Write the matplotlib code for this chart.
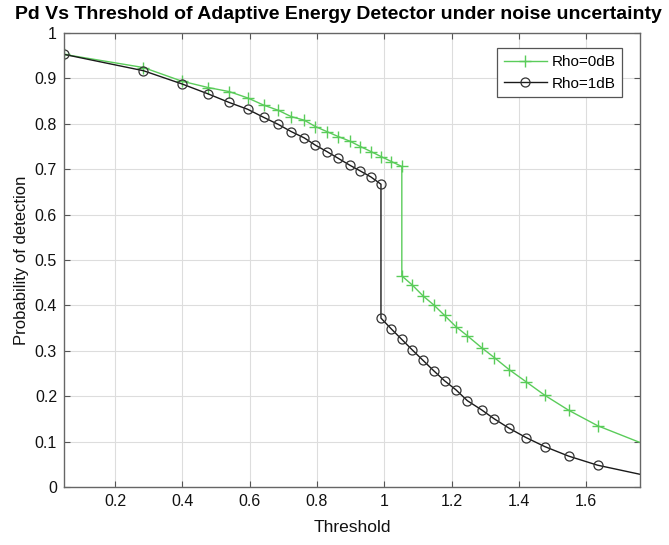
import matplotlib
matplotlib.use("Agg")
import matplotlib.pyplot as plt

plt.rcParams["font.family"] = ["Liberation Sans", "DejaVu Sans"]

# shared threshold grid
threshold = [0.048, 0.284, 0.398, 0.476, 0.539, 0.594, 0.642, 0.684, 0.723,
             0.762, 0.795, 0.829, 0.863, 0.897, 0.929, 0.960, 0.990, 1.021,
             1.052, 1.083, 1.115, 1.147, 1.179, 1.213, 1.247, 1.289, 1.327,
             1.372, 1.421, 1.477, 1.548, 1.634, 1.760]

# Rho = 0 dB: jump at threshold index 18
x_rho0 = threshold[:19] + threshold[18:]
pd_rho0 = [0.953, 0.924, 0.894, 0.880, 0.871, 0.857, 0.841, 0.830, 0.816,
           0.808, 0.794, 0.783, 0.772, 0.762, 0.750, 0.739, 0.728, 0.717,
           0.706,
           0.465, 0.445, 0.421, 0.401, 0.378, 0.353, 0.333, 0.307, 0.285,
           0.258, 0.232, 0.202, 0.169, 0.135, 0.098]

# Rho = 1 dB: jump at threshold index 16
x_rho1 = threshold[:17] + threshold[16:]
pd_rho1 = [0.953, 0.917, 0.888, 0.866, 0.847, 0.832, 0.814, 0.799, 0.783,
           0.769, 0.753, 0.739, 0.724, 0.709, 0.696, 0.683, 0.667,
           0.372, 0.348, 0.325, 0.302, 0.279, 0.256, 0.234, 0.214, 0.190,
           0.170, 0.150, 0.129, 0.109, 0.089, 0.068, 0.048, 0.028]

green = "#5acc5a"

fig = plt.figure(figsize=(6.69, 5.45), dpi=100)
ax = fig.add_axes([0.0957, 0.1064, 0.861, 0.833])

ax.plot(x_rho0, pd_rho0, color=green, lw=1.0, marker="+", ms=8, mew=1.0,
        markevery=list(range(len(x_rho0) - 1)), label="Rho=0dB")
ax.plot(x_rho1, pd_rho1, color="#1a1a1a", lw=1.0, marker="o", ms=6.5, mew=0.9,
        mfc="none", mec="#333333", markevery=list(range(len(x_rho1) - 1)),
        label="Rho=1dB")

ax.set_xlim(threshold[0], threshold[-1])
ax.set_ylim(0, 1)
ax.set_xticks([0.2, 0.4, 0.6, 0.8, 1.0, 1.2, 1.4, 1.6])
ax.set_xticklabels(["0.2", "0.4", "0.6", "0.8", "1", "1.2", "1.4", "1.6"])
ax.set_yticks([i / 10 for i in range(11)])
ax.set_yticklabels(["0", "0.1", "0.2", "0.3", "0.4", "0.5", "0.6", "0.7",
                    "0.8", "0.9", "1"])

ax.grid(True, color="#dddddd", lw=0.8)
ax.set_axisbelow(True)
for s in ax.spines.values():
    s.set_color("#666666")
    s.set_linewidth(1.0)
ax.tick_params(direction="in", top=True, right=True, length=4,
               color="#555555", labelsize=11.5, labelcolor="#111111", pad=5)

ax.set_xlabel("Threshold", fontsize=12.5, color="#111111", labelpad=8)
ax.set_ylabel("Probability of detection", fontsize=12, color="#111111",
              labelpad=4)
fig.text(0.506, 0.973,
         "Pd Vs Threshold of Adaptive Energy Detector under noise uncertainty",
         fontsize=14, fontweight="bold", ha="center", va="center")

leg = ax.legend(loc="upper right", bbox_to_anchor=(0.969, 0.967),
                borderaxespad=0, fontsize=11, fancybox=False,
                framealpha=1, edgecolor="#555555", handlelength=2.8,
                borderpad=0.45, labelspacing=0.5, handletextpad=0.3)
leg.get_frame().set_linewidth(0.9)

fig.savefig("out.png", dpi=100)
